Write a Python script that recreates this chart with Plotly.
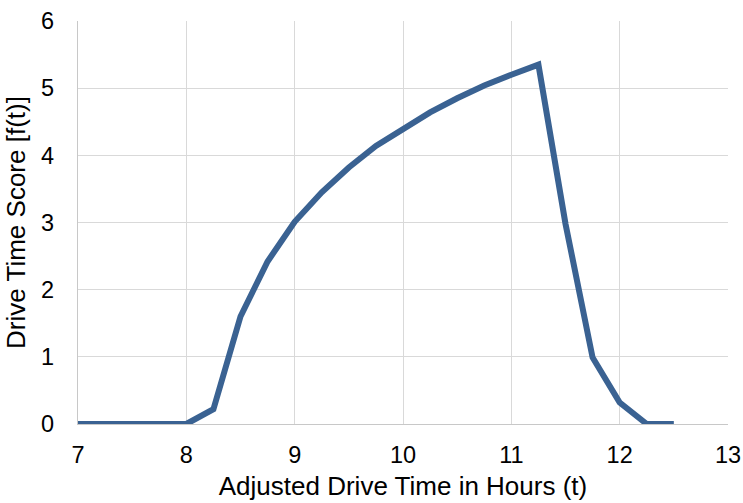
import plotly.graph_objects as go

hours = [7.0, 7.25, 7.5, 7.75, 8.0, 8.25, 8.5, 8.75, 9.0, 9.25, 9.5, 9.75, 10.0,
         10.25, 10.5, 10.75, 11.0, 11.25, 11.5, 11.75, 12.0, 12.25, 12.5]
score = [0, 0, 0, 0, 0, 0.22, 1.60, 2.42, 3.01, 3.45, 3.82, 4.14, 4.40,
         4.64, 4.85, 5.04, 5.20, 5.35, 2.98, 0.99, 0.32, 0, 0]

x_ticks = [7, 8, 9, 10, 11, 12, 13]
y_ticks = [0, 1, 2, 3, 4, 5, 6]

fig = go.Figure()
fig.add_trace(go.Scatter(
    x=hours, y=score, mode="lines",
    line=dict(color="#3A6292", width=6),
    showlegend=False, hoverinfo="skip"))

font_family = "Liberation Sans, Arial, sans-serif"
fig.update_layout(
    width=743, height=503,
    margin=dict(l=78, r=15, t=21, b=79),
    paper_bgcolor="white", plot_bgcolor="white",
    font=dict(family=font_family, color="black", size=23),
)
fig.update_xaxes(
    range=[7, 13], tickvals=x_ticks, ticktext=[str(v) for v in x_ticks],
    showgrid=True, gridcolor="#d9d9d9", gridwidth=1.3,
    showline=True, linecolor="#c8c8c8", linewidth=1.3,
    zeroline=False, ticks="", ticklabelstandoff=10,
    tickfont=dict(size=23.5), automargin=False,
    title=dict(text="Adjusted Drive Time in Hours (t)", font=dict(size=26), standoff=9),
)
fig.update_yaxes(
    range=[0, 6], tickvals=y_ticks, ticktext=[str(v) for v in y_ticks],
    showgrid=True, gridcolor="#d9d9d9", gridwidth=1.3,
    showline=True, linecolor="#c8c8c8", linewidth=1.3,
    zeroline=False, ticks="", ticklabelstandoff=18,
    tickfont=dict(size=23.5), automargin=False,
    title=dict(text="Drive Time Score [f(t)]", font=dict(size=26), standoff=7),
)

fig.write_html("out.html")
